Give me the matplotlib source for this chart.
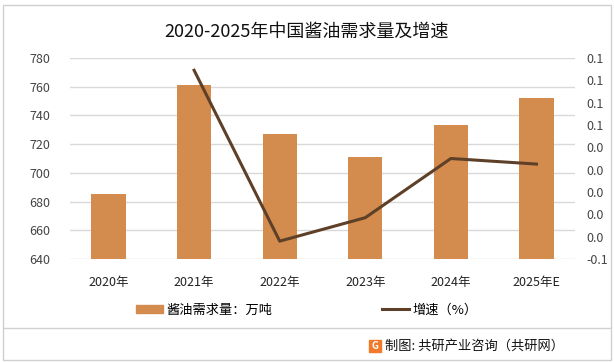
import matplotlib
matplotlib.use("Agg")
import matplotlib.pyplot as plt
from matplotlib.patches import Rectangle
from matplotlib.lines import Line2D

plt.rcParams['font.family'] = ['Noto Sans CJK SC', 'DejaVu Sans']

categories = ["2020年", "2021年", "2022年", "2023年", "2024年", "2025年E"]
demand = [685, 761, 727, 711, 733, 752]
growth_x = [1, 2, 3, 4, 5]
growth = [0.109, -0.044, -0.023, 0.030, 0.025]
left_ticks = [640, 660, 680, 700, 720, 740, 760, 780]
right_ticks = [-0.06, -0.04, -0.02, 0.0, 0.02, 0.04, 0.06, 0.08, 0.10, 0.12]
right_labels = ["-0.1", "0.0", "0.0", "0.0", "0.0", "0.0", "0.1", "0.1", "0.1", "0.1"]

bar_color = "#D38B4E"
line_color = "#5E4028"

W, H = 614, 362
fig = plt.figure(figsize=(W / 100, H / 100), dpi=100)

ax = fig.add_axes([70 / W, 1 - 259 / H, 505 / W, 201 / H])
x = list(range(len(categories)))
ax.bar(x, demand, width=0.4, color=bar_color, zorder=2)
ax.set_ylim(640, 780)
ax.set_xlim(-0.45, len(categories) - 0.55)
ax.set_yticks(left_ticks)
ax.set_xticks(x)
ax.set_xticklabels(categories, fontsize=9, color="#222222")
ax.tick_params(axis='y', labelsize=9, colors="#444444", length=0, pad=14)
ax.tick_params(axis='x', length=0, pad=12)
ax.grid(axis='y', color="#D9D9D9", linewidth=1, zorder=0)
for s in ax.spines.values():
    s.set_visible(False)

ax2 = ax.twinx()
ax2.plot(growth_x, growth, color=line_color, linewidth=2.2, zorder=3)
ax2.set_ylim(-0.06, 0.12)
ax2.set_yticks(right_ticks)
ax2.set_yticklabels(right_labels)
ax2.tick_params(axis='y', labelsize=9, colors="#444444", length=0, pad=8)
for s in ax2.spines.values():
    s.set_visible(False)

fig.text(0.5, 1 - 32 / H, "2020-2025年中国酱油需求量及增速", ha='center', va='center',
         fontsize=13, color="#111111")

handles = [Rectangle((0, 0), 1, 1, color=bar_color),
           Line2D([0], [0], color=line_color, linewidth=2.2)]
fig.legend(handles, ["酱油需求量：万吨", "增速（%）"], loc='center',
           bbox_to_anchor=(0.5, 1 - 310 / H), ncol=2, frameon=False,
           fontsize=9.5, columnspacing=8.3, handlelength=2.0, handleheight=0.5,
           handletextpad=0.3)

# separator and border
fig.add_artist(Line2D([4 / W, 1 - 4 / W], [1 - 328 / H, 1 - 328 / H],
                      color="#D0D0D0", linewidth=1, transform=fig.transFigure))
fig.add_artist(Rectangle((3 / W, 2 / H), 1 - 6 / W, 1 - 7 / H, fill=False,
                         edgecolor="#D0D0D0", linewidth=1, transform=fig.transFigure))

# footer with logo
fig.add_artist(Rectangle((369 / W, 1 - 352 / H), 12 / W, 12 / H, color="#F07A2A",
                         transform=fig.transFigure))
fig.text(375 / W, 1 - 346 / H, "G", ha='center', va='center', fontsize=7,
         color="white", fontweight='bold')
fig.text(385 / W, 1 - 346 / H, "制图: 共研产业咨询（共研网）", ha='left', va='center',
         fontsize=9.5, color="#111111")

fig.savefig("out.png", dpi=100)
